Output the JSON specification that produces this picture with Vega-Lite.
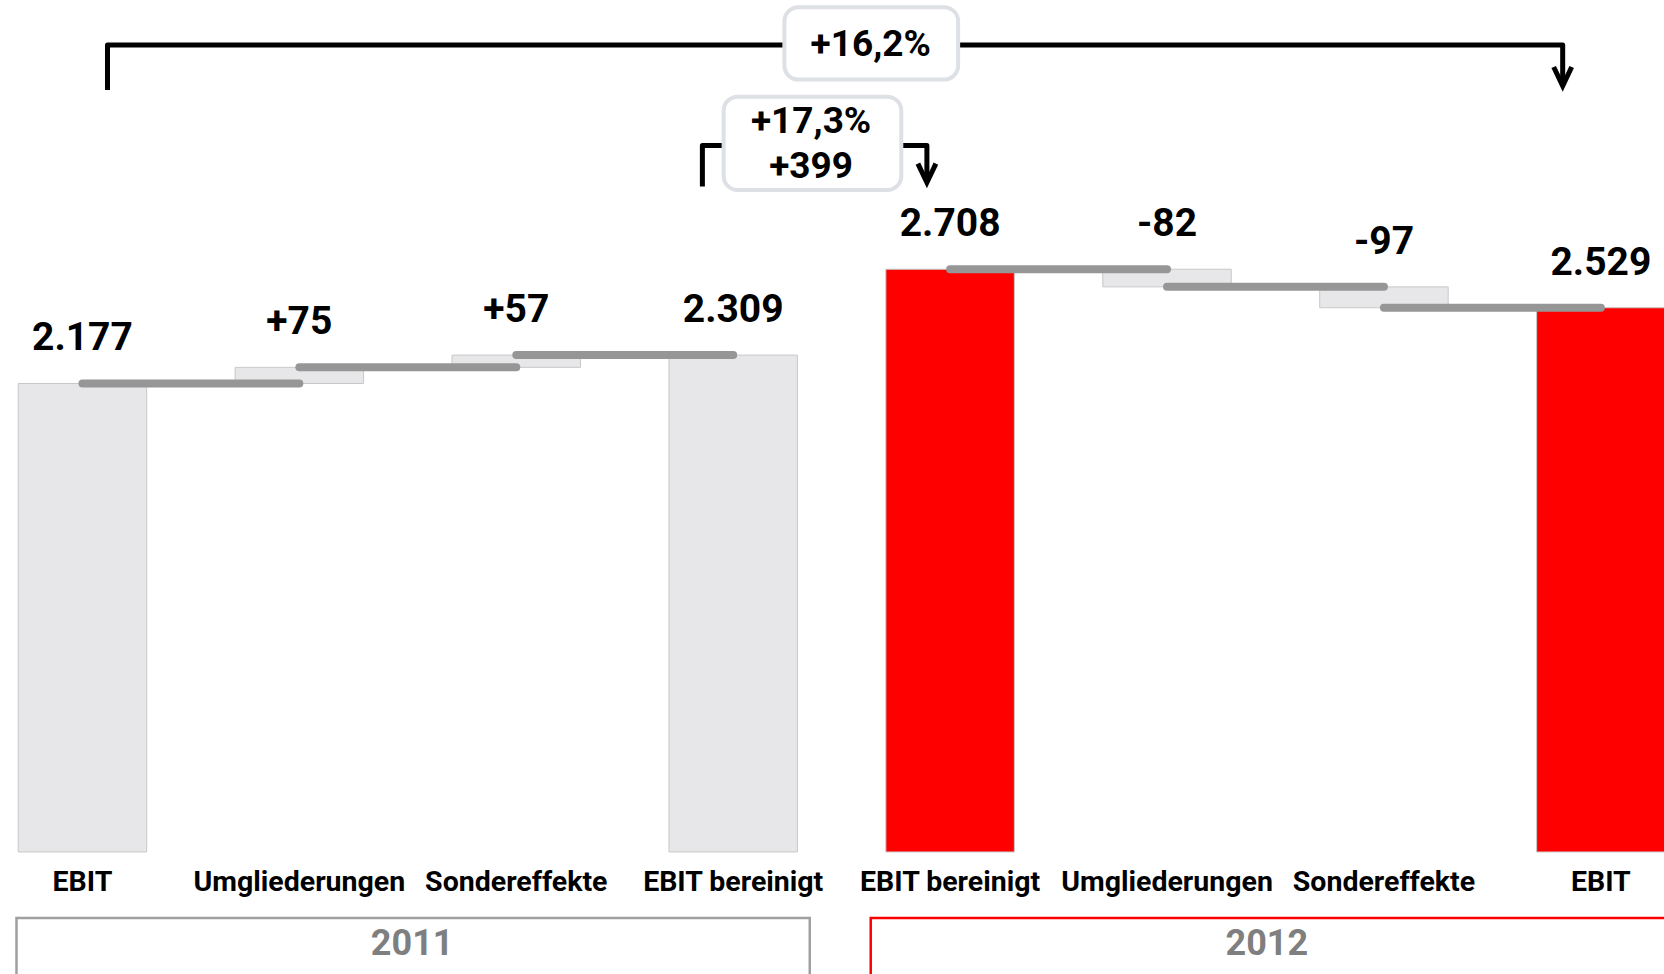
{
  "$schema": "https://vega.github.io/schema/vega-lite/v6.json",
  "width": 1664,
  "height": 974,
  "padding": 0,
  "autosize": "none",
  "background": "white",
  "config": {"view": {"stroke": null}},
  "datasets": {
    "bars": [
      {"i": 0, "label": "EBIT", "start": 0, "end": 2177, "kind": "grey", "disp": "2.177"},
      {"i": 1, "label": "Umgliederungen", "start": 2177, "end": 2252, "kind": "grey", "disp": "+75"},
      {"i": 2, "label": "Sondereffekte", "start": 2252, "end": 2309, "kind": "grey", "disp": "+57"},
      {"i": 3, "label": "EBIT bereinigt", "start": 0, "end": 2309, "kind": "grey", "disp": "2.309"},
      {"i": 4, "label": "EBIT bereinigt", "start": 0, "end": 2708, "kind": "red", "disp": "2.708"},
      {"i": 5, "label": "Umgliederungen", "start": 2708, "end": 2626, "kind": "grey", "disp": "-82"},
      {"i": 6, "label": "Sondereffekte", "start": 2626, "end": 2529, "kind": "grey", "disp": "-97"},
      {"i": 7, "label": "EBIT", "start": 0, "end": 2529, "kind": "red", "disp": "2.529"}
    ],
    "connectors": [
      {"from": 0, "to": 1, "level": 2177},
      {"from": 1, "to": 2, "level": 2252},
      {"from": 2, "to": 3, "level": 2309},
      {"from": 4, "to": 5, "level": 2708},
      {"from": 5, "to": 6, "level": 2626},
      {"from": 6, "to": 7, "level": 2529}
    ],
    "years": [
      {"year": "2011", "x0": -0.304, "x1": 3.353, "xc": 1.52, "top": -307, "bottom": -800, "ty": -428},
      {"year": "2012", "x0": 3.634, "x1": 7.3, "xc": 5.46, "top": -307, "bottom": -800, "ty": -428}
    ],
    "brackets": [
      {"g": "big", "o": 1, "x": 0.1155, "y": 3541},
      {"g": "big", "o": 2, "x": 0.1155, "y": 3750},
      {"g": "big", "o": 3, "x": 6.824, "y": 3750},
      {"g": "big", "o": 4, "x": 6.824, "y": 3568},
      {"g": "small", "o": 1, "x": 2.858, "y": 3092},
      {"g": "small", "o": 2, "x": 2.858, "y": 3283},
      {"g": "small", "o": 3, "x": 3.893, "y": 3283},
      {"g": "small", "o": 4, "x": 3.893, "y": 3119}
    ],
    "arrows": [
      {"x": 6.824, "y": 3560},
      {"x": 3.893, "y": 3111}
    ],
    "boxes": [
      {"x0": 3.236, "x1": 4.037, "y0": 3589, "y1": 3925},
      {"x0": 2.956, "x1": 3.775, "y0": 3076, "y1": 3510}
    ],
    "notes": [
      {"x": 3.634, "y": 3752, "t": "+16,2%"},
      {"x": 3.359, "y": 3390, "t": "+17,3%"},
      {"x": 3.359, "y": 3185, "t": "+399"}
    ]
  },
  "layer": [
    {
      "data": {"name": "years"},
      "mark": {"type": "rect", "fill": "white", "strokeWidth": 2.5, "clip": true},
      "encoding": {
        "x": {"field": "x0", "type": "quantitative", "scale": {"domain": [-0.357, 7.268], "nice": false, "zero": false}, "axis": null},
        "x2": {"field": "x1"},
        "y": {"field": "top", "type": "quantitative", "scale": {"domain": [-567, 3959], "nice": false, "zero": false}, "axis": null},
        "y2": {"field": "bottom"},
        "stroke": {"field": "year", "type": "nominal", "scale": {"domain": ["2011", "2012"], "range": ["#A0A0A0", "#FF0000"]}, "legend": null}
      }
    },
    {
      "data": {"name": "years"},
      "mark": {"type": "text", "font": "Roboto", "fontWeight": "bold", "fontSize": 36, "color": "#7F7F7F", "baseline": "middle", "align": "center"},
      "encoding": {
        "x": {"field": "xc", "type": "quantitative"},
        "y": {"field": "ty", "type": "quantitative"},
        "text": {"field": "year"}
      }
    },
    {
      "data": {"name": "bars"},
      "mark": {"type": "bar", "width": 128.5, "stroke": "#C8C8C8", "strokeWidth": 1, "clip": true},
      "encoding": {
        "x": {"field": "i", "type": "quantitative"},
        "y": {"field": "start", "type": "quantitative"},
        "y2": {"field": "end"},
        "fill": {"field": "kind", "type": "nominal", "scale": {"domain": ["grey", "red"], "range": ["#E7E7E9", "#FF0000"]}, "legend": null}
      }
    },
    {
      "data": {"name": "connectors"},
      "mark": {"type": "rule", "color": "#969696", "strokeWidth": 8, "strokeCap": "round"},
      "encoding": {
        "x": {"field": "from", "type": "quantitative"},
        "x2": {"field": "to"},
        "y": {"field": "level", "type": "quantitative"}
      }
    },
    {
      "data": {"name": "bars"},
      "transform": [{"calculate": "max(datum.start, datum.end)", "as": "top"}],
      "mark": {"type": "text", "font": "Roboto", "fontWeight": "bold", "fontSize": 39, "color": "black", "baseline": "alphabetic", "align": "center", "dy": -33},
      "encoding": {
        "x": {"field": "i", "type": "quantitative"},
        "y": {"field": "top", "type": "quantitative"},
        "text": {"field": "disp"}
      }
    },
    {
      "data": {"name": "bars"},
      "transform": [{"calculate": "-139", "as": "ly"}],
      "mark": {"type": "text", "font": "Roboto", "fontWeight": "bold", "fontSize": 28.5, "color": "black", "baseline": "middle", "align": "center"},
      "encoding": {
        "x": {"field": "i", "type": "quantitative"},
        "y": {"field": "ly", "type": "quantitative"},
        "text": {"field": "label"}
      }
    },
    {
      "data": {"name": "brackets"},
      "mark": {"type": "line", "color": "black", "strokeWidth": 5, "strokeJoin": "round", "strokeCap": "butt"},
      "encoding": {
        "x": {"field": "x", "type": "quantitative"},
        "y": {"field": "y", "type": "quantitative"},
        "detail": {"field": "g"},
        "order": {"field": "o"}
      }
    },
    {
      "data": {"name": "arrows"},
      "mark": {"type": "point", "shape": "M-1,-2.1L0,0L1,-2.1", "filled": false, "stroke": "black", "strokeWidth": 5, "size": 324, "opacity": 1, "strokeJoin": "miter"},
      "encoding": {
        "x": {"field": "x", "type": "quantitative"},
        "y": {"field": "y", "type": "quantitative"}
      }
    },
    {
      "data": {"name": "boxes"},
      "mark": {"type": "rect", "fill": "white", "stroke": "#DDE0E5", "strokeWidth": 4, "cornerRadius": 14},
      "encoding": {
        "x": {"field": "x0", "type": "quantitative"},
        "x2": {"field": "x1"},
        "y": {"field": "y0", "type": "quantitative"},
        "y2": {"field": "y1"}
      }
    },
    {
      "data": {"name": "notes"},
      "mark": {"type": "text", "font": "Roboto", "fontWeight": "bold", "fontSize": 37, "color": "black", "baseline": "middle", "align": "center"},
      "encoding": {
        "x": {"field": "x", "type": "quantitative"},
        "y": {"field": "y", "type": "quantitative"},
        "text": {"field": "t"}
      }
    }
  ]
}
